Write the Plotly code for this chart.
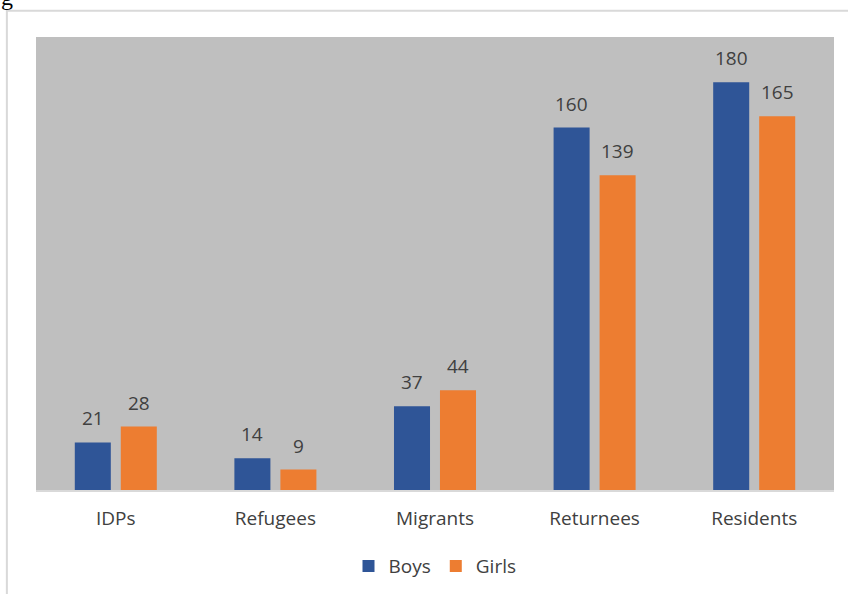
import plotly.graph_objects as go

categories = ["IDPs", "Refugees", "Migrants", "Returnees", "Residents"]
boys = [21, 14, 37, 160, 180]
girls = [28, 9, 44, 139, 165]

C_BOYS = "#2F5597"
C_GIRLS = "#ED7D31"
TXT = "#404040"
FONT = "Open Sans"

fig = go.Figure()
fig.add_trace(go.Bar(name="Boys", x=categories, y=boys, marker=dict(color=C_BOYS, line=dict(width=0))))
fig.add_trace(go.Bar(name="Girls", x=categories, y=girls, marker=dict(color=C_GIRLS, line=dict(width=0))))

anns = []
for c, b, g in zip(categories, boys, girls):
    anns.append(dict(x=c, y=b, xref="x", yref="y", text=str(b), showarrow=False,
                     xshift=-23, yshift=9, yanchor="bottom",
                     font=dict(family=FONT, size=19, color=TXT)))
    anns.append(dict(x=c, y=g, xref="x", yref="y", text=str(g), showarrow=False,
                     xshift=23, yshift=9, yanchor="bottom",
                     font=dict(family=FONT, size=19, color=TXT)))
anns.append(dict(x=-0.046, y=1.088, xref="paper", yref="paper", text="g", showarrow=False,
                 xanchor="left", yanchor="middle", font=dict(family="Liberation Serif", size=24, color="#000")))

fig.update_layout(
    width=848, height=594,
    margin=dict(l=36, r=14, t=37, b=104, autoexpand=False),
    paper_bgcolor="white",
    plot_bgcolor="#BFBFBF",
    barmode="group",
    bargap=0.4236,
    bargroupgap=0.217,
    font=dict(family=FONT, size=19, color=TXT),
    showlegend=True,
    legend=dict(orientation="h", x=0.5, xanchor="center", y=0.047, yanchor="middle",
                yref="container",
                font=dict(family=FONT, size=19, color=TXT), itemwidth=30,
                traceorder="normal", tracegroupgap=0),
    annotations=anns,
    shapes=[dict(type="rect", xref="paper", yref="paper", x0=-0.0365, x1=1.05, y0=-0.3, y1=1.058,
                 line=dict(color="#D9D9D9", width=2), fillcolor="rgba(0,0,0,0)", layer="below")],
)
fig.update_xaxes(showgrid=False, showline=True, linecolor="#D9D9D9", linewidth=2,
                 ticks="outside", ticklen=10, tickcolor="rgba(0,0,0,0)",
                 tickfont=dict(family=FONT, size=19, color=TXT))
fig.update_yaxes(range=[0, 200], showgrid=False, showticklabels=False, zeroline=False, showline=False)

fig.write_html("out.html")
